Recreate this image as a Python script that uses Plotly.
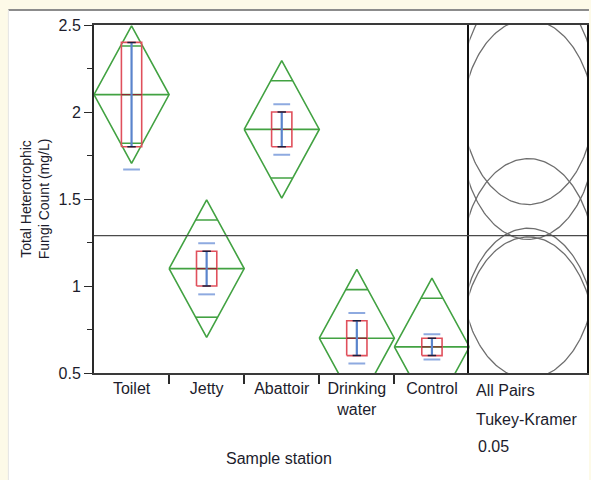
import numpy as np
import plotly.graph_objects as go

# ---- data ----
stations = ["Toilet", "Jetty", "Abattoir", "Drinking<br>water", "Control"]
means = [2.10, 1.10, 1.90, 0.70, 0.65]
ci_half = [0.395, 0.395, 0.395, 0.395, 0.395]          # means-diamond half height
q1 = [1.80, 1.00, 1.80, 0.60, 0.60]
median = [2.10, 1.10, 1.90, 0.70, 0.65]
q3 = [2.40, 1.20, 2.00, 0.80, 0.70]
err_lo = [1.80, 1.00, 1.80, 0.60, 0.60]                # mean error bars
err_hi = [2.40, 1.20, 2.00, 0.80, 0.70]
sd_lo = [1.67, 0.952, 1.755, 0.555, 0.578]             # std dev marks
sd_hi = [2.53, 1.245, 2.045, 0.845, 0.722]
circle_radius = [0.632, 0.632, 0.632, 0.632, 0.632]    # Tukey-Kramer comparison circles
y_ticks = [0.5, 1.0, 1.5, 2.0, 2.5]
y_tick_text = ["0.5", "1", "1.5", "2", "2.5"]

GREEN = "#42a242"
RED = "#e0505c"
BLUE = "#5a84cc"
LBLUE = "#8eaae0"
DARK = "#1e1e3a"
TXT = "#1c1c2c"
FONT = "Liberation Sans Narrow, Arial Narrow, Liberation Sans, Arial, sans-serif"

n = len(stations)
xc = [i + 0.5 for i in range(n)]
grand_mean = float(np.mean(means))

fig = go.Figure()

# means diamonds
dx, dy = [], []
mx, my = [], []
ox, oy = [], []
for i in range(n):
    m, c = means[i], ci_half[i]
    dx += [i, xc[i], i + 1, xc[i], i, None]
    dy += [m, m + c, m, m - c, m, None]
    mx += [i, i + 1, None]
    my += [m, m, None]
    ov = c / np.sqrt(2)
    hw = 0.5 * (1 - ov / c)
    for s in (1, -1):
        ox += [xc[i] - hw, xc[i] + hw, None]
        oy += [m + s * ov, m + s * ov, None]
for xs, ys in ((dx, dy), (mx, my), (ox, oy)):
    fig.add_trace(go.Scatter(x=xs, y=ys, mode="lines", line=dict(color=GREEN, width=1.6),
                             hoverinfo="skip", showlegend=False))

# boxes
bw = 0.135
bx, by, mdx, mdy = [], [], [], []
for i in range(n):
    bx += [xc[i] - bw, xc[i] + bw, xc[i] + bw, xc[i] - bw, xc[i] - bw, None]
    by += [q1[i], q1[i], q3[i], q3[i], q1[i], None]
    mdx += [xc[i] - bw, xc[i] + bw, None]
    mdy += [median[i], median[i], None]
fig.add_trace(go.Scatter(x=bx, y=by, mode="lines", line=dict(color=RED, width=1.6),
                         hoverinfo="skip", showlegend=False))
fig.add_trace(go.Scatter(x=mdx, y=mdy, mode="lines", line=dict(color="#8a2a30", width=1.4),
                         hoverinfo="skip", showlegend=False))

# mean error bars
ex, ey = [], []
for i in range(n):
    ex += [xc[i], xc[i], None]
    ey += [err_lo[i], err_hi[i], None]
fig.add_trace(go.Scatter(x=ex, y=ey, mode="lines", line=dict(color=BLUE, width=2.2),
                         hoverinfo="skip", showlegend=False))
fig.add_trace(go.Scatter(x=xc + xc, y=err_lo + err_hi, mode="markers",
                         marker=dict(symbol="line-ew", size=6, line=dict(color=DARK, width=1.5)),
                         hoverinfo="skip", showlegend=False))
# std dev marks
fig.add_trace(go.Scatter(x=xc + xc, y=sd_lo + sd_hi, mode="markers",
                         marker=dict(symbol="line-ew", size=12, line=dict(color=LBLUE, width=2)),
                         hoverinfo="skip", showlegend=False))

# comparison circles
ax_half = 1.15
th = np.linspace(0, 2 * np.pi, 241)
for i in range(n):
    fig.add_trace(go.Scatter(x=ax_half * np.cos(th), y=means[i] + circle_radius[i] * np.sin(th),
                             mode="lines", line=dict(color="#6e6e6e", width=1.3),
                             xaxis="x2", yaxis="y2", hoverinfo="skip", showlegend=False))

# card background
fig.add_shape(type="rect", xref="paper", yref="paper", x0=-0.1737, x1=1.0040, y0=-0.3075, y1=1.0431,
              fillcolor="white", line=dict(width=0), layer="below")
fig.add_shape(type="line", xref="paper", yref="paper", x0=-0.1737, x1=1.0040, y0=1.0431, y1=1.0431,
              line=dict(color="#8c8c8c", width=2), layer="below")
fig.add_shape(type="line", xref="paper", yref="paper", x0=-0.1737, x1=-0.1737, y0=-0.3075, y1=1.0431,
              line=dict(color="#e4e4e4", width=1), layer="below")
# grand mean line
fig.add_shape(type="line", xref="paper", yref="y", x0=0, x1=1, y0=grand_mean, y1=grand_mean,
              line=dict(color="#4a4a4a", width=1.2))

split = (471 - 94) / 495
fig.update_layout(
    width=591, height=480,
    margin=dict(l=94, r=2, t=25, b=107),
    paper_bgcolor="#fdfae8", plot_bgcolor="white",
    font=dict(family=FONT, color=TXT, size=16),
    xaxis=dict(domain=[0, split], range=[0, n], tickvals=xc, ticktext=stations, ticks="",
               showgrid=False, zeroline=False, showline=True, linecolor="#3a3a3a", linewidth=1.5,
               mirror=True, tickfont=dict(size=16, color=TXT),
               minor=dict(tickvals=list(range(1, n)), ticks="outside", ticklen=9,
                          tickcolor="#2a2a2a", tickwidth=1.5, showgrid=False)),
    yaxis=dict(range=[0.5, 2.5], tickvals=y_ticks, ticktext=y_tick_text, ticks="outside",
               ticklen=8, tickcolor="#2a2a2a", tickwidth=1.3, showgrid=False, zeroline=False,
               showline=True, linecolor="#2a2a2a", linewidth=2, mirror=False,
               tickfont=dict(size=16, color=TXT),
               minor=dict(dtick=0.25, ticks="outside", ticklen=5, tickcolor="#2a2a2a",
                          tickwidth=1.2, showgrid=False)),
    xaxis2=dict(domain=[split, 1], range=[-1, 1], anchor="y2", showticklabels=False, ticks="",
                showgrid=False, zeroline=False, showline=True, linecolor="#3a3a3a",
                linewidth=1.5, mirror=True),
    yaxis2=dict(matches="y", anchor="x2", showticklabels=False, ticks="", showgrid=False,
                zeroline=False, showline=True, linecolor="#111111", linewidth=2, mirror=True),
    annotations=[
        dict(text="Total Heterotrophic<br>Fungi Count (mg/L)", xref="paper", yref="paper",
             x=-0.1192, y=0.5, textangle=-90, showarrow=False, font=dict(size=14),
             xanchor="center", yanchor="middle"),
        dict(text="Sample station", xref="paper", yref="paper", x=0.3758, y=-0.2443,
             showarrow=False, xanchor="center", yanchor="middle", font=dict(size=16)),
        dict(text="All Pairs", xref="paper", yref="paper", x=0.7717, y=-0.0489,
             showarrow=False, xanchor="left", yanchor="middle", font=dict(size=16)),
        dict(text="Tukey-Kramer", xref="paper", yref="paper", x=0.7717, y=-0.135,
             showarrow=False, xanchor="left", yanchor="middle", font=dict(size=16)),
        dict(text="0.05", xref="paper", yref="paper", x=0.7757, y=-0.2126,
             showarrow=False, xanchor="left", yanchor="middle", font=dict(size=16)),
    ],
)

fig.write_html("out.html", config={"displayModeBar": False},
               post_script="document.body.style.margin='0';document.body.style.overflow='hidden';"
                           "document.body.style.background='#fdfae8';")
